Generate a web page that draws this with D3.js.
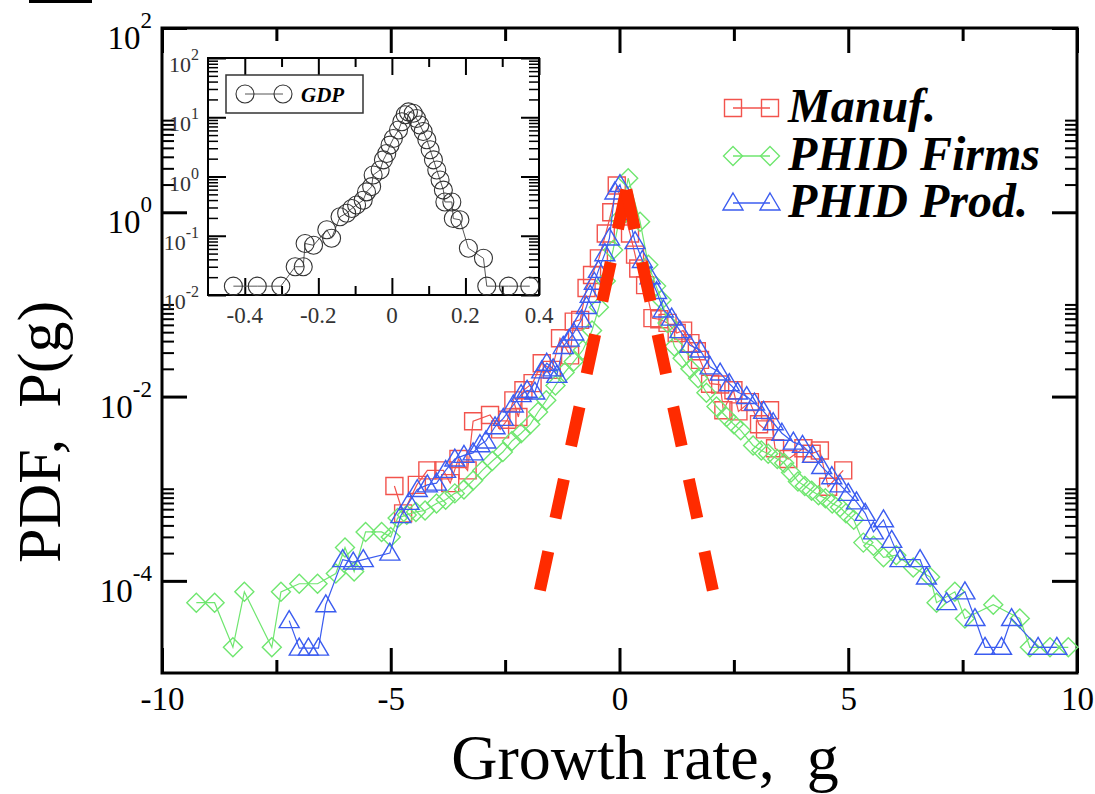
<!DOCTYPE html>
<html><head><meta charset="utf-8">
<script src="https://cdn.jsdelivr.net/npm/d3@7"></script>
<style>
html,body{margin:0;padding:0;background:#fff;}
svg{display:block;}
text{font-family:"Liberation Serif","Times New Roman",serif;}
</style></head><body>
<svg id="chart" width="1095" height="794"></svg>
<script>
// ---------- data ----------
// Manufacturing firms: growth rate g and density P(g)
const manufG = [-4.92,-4.73,-4.43,-4.2,-3.85,-3.7,-3.52,-3.32,-3.2,-2.83,-2.61,-2.45,-2.32,-2.21,-2.1,-1.9,-1.7,-1.48,-1.3,-1.08,-1.0,-0.86,-0.72,-0.6,-0.45,-0.3,-0.18,-0.06,0.23,0.34,0.41,0.56,0.72,0.87,1.05,1.25,1.39,1.55,1.69,1.76,1.98,2.2,2.27,2.49,2.6,2.85,3.05,3.18,3.29,3.4,3.69,4.02,4.2,4.38,4.56,4.89];
const manufP = [1.07e-3,5.4e-4,1.1e-3,1.58e-3,1.58e-3,1.15e-3,2.1e-3,1.58e-3,5.4e-3,6.3e-3,4.4e-3,5.6e-3,9.1e-3,6.0e-3,1.17e-2,1.4e-2,2.3e-2,1.95e-2,4.3e-2,2.8e-2,6.5e-2,6.8e-2,0.151,0.209,0.316,0.589,1.0,1.95,0.589,0.347,0.245,0.162,0.071,0.069,0.063,0.049,0.052,0.038,0.031,0.025,0.0138,0.0135,7.1e-3,0.0117,6.9e-3,8.7e-3,5.0e-3,4.4e-3,7.1e-3,2.75e-3,2.1e-3,2.75e-3,2.4e-3,2.6e-3,1.05e-3,1.58e-3];

// PHID firms
const firmsG = [-9.25,-8.85,-8.45,-8.2,-7.6,-7.4,-7.0,-6.6,-6.2,-6.0,-5.8,-5.55,-5.2,-5.0,-4.85,-4.65,-4.45,-4.25,-4.0,-3.8,-3.6,-3.4,-3.2,-3.0,-2.78,-2.55,-2.35,-2.15,-1.95,-1.78,-1.6,-1.4,-1.2,-1.0,-0.8,-0.6,-0.45,-0.3,-0.14,0.0,0.19,0.45,0.63,0.8,0.92,1.05,1.2,1.38,1.55,1.72,1.9,2.12,2.34,2.5,2.65,2.92,3.1,3.25,3.45,3.6,3.75,3.9,4.05,4.2,4.35,4.5,4.65,4.82,4.95,5.12,5.33,5.55,5.77,6.05,6.42,6.79,6.93,7.33,7.55,8.17,8.75,8.97,9.41,9.81];
const firmsP = [5.8e-5,5.8e-5,1.9e-5,7.6e-5,1.9e-5,7.6e-5,9.3e-5,9.3e-5,1.2e-4,2.3e-4,1.26e-4,3.4e-4,3.4e-4,3.0e-4,4.8e-4,5.2e-4,5.6e-4,5.8e-4,6.9e-4,7.6e-4,8.9e-4,9.8e-4,1.23e-3,1.58e-3,2.0e-3,2.5e-3,3.3e-3,4.0e-3,5.0e-3,6.8e-3,9.1e-3,1.32e-2,1.82e-2,2.4e-2,3.2e-2,5.2e-2,9.3e-2,0.18,0.39,0.85,2.34,0.79,0.27,0.158,0.112,0.063,0.035,0.026,0.020,0.0158,0.011,7.8e-3,6.0e-3,5.0e-3,4.3e-3,2.95e-3,2.6e-3,2.4e-3,2.1e-3,1.9e-3,1.5e-3,1.2e-3,1.07e-3,9.5e-4,8.5e-4,7.9e-4,6.9e-4,6.3e-4,5.4e-4,4.6e-4,2.6e-4,2.4e-4,1.8e-4,1.9e-4,1.4e-4,1.1e-4,5.8e-5,7.6e-5,3.9e-5,5.5e-5,3.9e-5,1.9e-5,1.9e-5,1.9e-5];

// PHID products
const prodG = [-7.22,-7.0,-6.8,-6.58,-6.42,-6.05,-5.82,-5.6,-5.02,-4.78,-4.6,-4.42,-4.2,-4.0,-3.8,-3.6,-3.4,-3.2,-3.05,-2.92,-2.72,-2.54,-2.32,-2.15,-2.02,-1.85,-1.7,-1.59,-1.45,-1.37,-1.23,-1.1,-1.0,-0.83,-0.72,-0.64,-0.55,-0.46,-0.32,-0.22,-0.1,0.01,0.18,0.34,0.5,0.67,0.81,0.96,1.14,1.32,1.54,1.76,1.98,2.2,2.4,2.58,2.78,2.95,3.15,3.36,3.55,3.8,4.0,4.22,4.42,4.64,4.82,5.0,5.18,5.37,5.55,5.77,5.95,6.13,6.57,6.71,7.15,7.55,7.77,7.99,8.35,8.57,9.15,9.56];
const prodP = [3.7e-5,1.86e-5,1.86e-5,1.86e-5,5.5e-5,1.7e-4,1.6e-4,1.7e-4,2.0e-4,5.1e-4,7.1e-4,9.8e-4,1.1e-3,1.15e-3,1.58e-3,2.1e-3,2.3e-3,2.45e-3,3.0e-3,3.3e-3,4.7e-3,5.8e-3,8.1e-3,1.05e-2,1.17e-2,1.12e-2,1.9e-2,2.3e-2,2.0e-2,1.7e-2,3.5e-2,4.2e-2,4.9e-2,6.8e-2,9.5e-2,0.126,0.174,0.234,0.355,0.525,1.66,2.0,1.0,0.48,0.30,0.20,0.138,0.087,0.071,0.052,0.036,0.032,0.021,0.018,0.0138,0.0112,0.010,8.5e-3,6.9e-3,5.2e-3,4.0e-3,3.2e-3,2.95e-3,2.3e-3,1.74e-3,1.35e-3,1.1e-3,8.9e-4,7.2e-4,5.4e-4,3.4e-4,4.6e-4,2.75e-4,1.7e-4,1.7e-4,1.1e-4,5.8e-5,7.6e-5,3.9e-5,1.9e-5,1.9e-5,3.9e-5,1.9e-5,1.9e-5];

// Dashed reference line: vertices (left foot, peak, right foot)
const refG = [-1.74, 0.15, 2.04];
const refP = [7.9e-5, 1.75, 7.9e-5];

// GDP growth rates (inset)
const gdpG = [-0.431,-0.366,-0.302,-0.263,-0.241,-0.236,-0.213,-0.177,-0.164,-0.141,-0.123,-0.109,-0.096,-0.078,-0.069,-0.055,-0.051,-0.032,-0.023,-0.014,-0.005,0.004,0.018,0.027,0.036,0.045,0.058,0.067,0.076,0.085,0.095,0.104,0.113,0.122,0.131,0.140,0.144,0.163,0.167,0.185,0.208,0.249,0.258,0.317,0.375];
const gdpP = [0.0141,0.0141,0.0141,0.030,0.030,0.074,0.069,0.126,0.091,0.209,0.240,0.288,0.331,0.398,0.550,0.676,1.06,1.29,1.91,2.45,3.39,4.37,6.1,8.4,11.0,12.3,11.7,9.5,7.4,5.75,4.17,2.82,1.91,1.29,0.871,0.589,0.372,0.372,0.195,0.186,0.0617,0.0417,0.0141,0.0141,0.0141];

// Axis ticks and labels
const xMajor = [-10, -5, 0, 5, 10];
const xMinor = [-7.5, -2.5, 2.5, 7.5];
const yLabelVals = [1e2, 1e0, 1e-2, 1e-4];
const yLabelExp = ["2", "0", "-2", "-4"];
const yMinorDecades = [1e0, 1e-2, 1e-4];

const ixMajor = [-0.4, -0.2, 0, 0.2, 0.4];
const ixLabels = ["-0.4", "-0.2", "0", "0.2", "0.4"];
const ixMinor = [-0.3, -0.1, 0.1, 0.3];
const iyMajor = [1e-2, 1e-1, 1e0, 1e1, 1e2];
const iyLabelExp = ["-2", "-1", "0", "1", "2"];

const seriesNames = ["Manuf.", "PHID Firms", "PHID Prod."];
const seriesColors = ["#f2534d", "#6fe66f", "#3b5cf0"];

// ---------- drawing ----------
const svg = d3.select("#chart");
svg.append("rect").attr("width", 1095).attr("height", 794).attr("fill", "#fff");

// fragment of the neighbouring panel's label in the corner
svg.append("rect").attr("x", 29).attr("y", 0).attr("width", 63).attr("height", 3).attr("fill", "#000");

const x = d3.scaleLinear().domain([-10, 10]).range([162, 1077]);
const y = d3.scaleLog().domain([1e-5, 1e2]).range([673, 28]);

const yMinor = [];
yMinorDecades.forEach(d => { for (let k = 2; k <= 10; k++) yMinor.push(k * d); });

function styleAxis(g, w) {
  g.select(".domain").remove();
  g.selectAll(".tick line").attr("stroke", "#000").attr("stroke-width", w);
}

// main frame axes (ticks point inward on all four sides)
const axG = svg.append("g");
axG.append("g").attr("transform", "translate(0,673)")
  .call(d3.axisBottom(x).tickValues(xMajor).tickSizeInner(-25).tickSizeOuter(0).tickPadding(13).tickFormat(d => d))
  .call(g => styleAxis(g, 3))
  .call(g => g.selectAll("text").attr("font-size", 33).attr("fill", "#000")
    .attr("font-family", "Liberation Serif").attr("y", 14));
axG.append("g").attr("transform", "translate(0,673)")
  .call(d3.axisBottom(x).tickValues(xMinor).tickSizeInner(-13).tickSizeOuter(0).tickFormat(""))
  .call(g => styleAxis(g, 3));
axG.append("g").attr("transform", "translate(0,28)")
  .call(d3.axisTop(x).tickValues(xMajor).tickSizeInner(-25).tickSizeOuter(0).tickFormat(""))
  .call(g => styleAxis(g, 3));
axG.append("g").attr("transform", "translate(0,28)")
  .call(d3.axisTop(x).tickValues(xMinor).tickSizeInner(-13).tickSizeOuter(0).tickFormat(""))
  .call(g => styleAxis(g, 3));
axG.append("g").attr("transform", "translate(162,0)")
  .call(d3.axisLeft(y).tickValues(yLabelVals).tickSizeInner(-25).tickSizeOuter(0).tickFormat(""))
  .call(g => styleAxis(g, 3));
axG.append("g").attr("transform", "translate(162,0)")
  .call(d3.axisLeft(y).tickValues(yMinor).tickSizeInner(-12).tickSizeOuter(0).tickFormat(""))
  .call(g => styleAxis(g, 2));
axG.append("g").attr("transform", "translate(1077,0)")
  .call(d3.axisRight(y).tickValues(yLabelVals).tickSizeInner(-25).tickSizeOuter(0).tickFormat(""))
  .call(g => styleAxis(g, 3));
axG.append("g").attr("transform", "translate(1077,0)")
  .call(d3.axisRight(y).tickValues(yMinor).tickSizeInner(-12).tickSizeOuter(0).tickFormat(""))
  .call(g => styleAxis(g, 2));

svg.append("rect").attr("x", 162).attr("y", 28).attr("width", 915).attr("height", 645)
  .attr("fill", "none").attr("stroke", "#000").attr("stroke-width", 3);

// y tick labels: 10 with superscript exponent
yLabelVals.forEach((v, i) => {
  const t = svg.append("text").attr("x", 152).attr("y", y(v) + 21).attr("text-anchor", "end").attr("fill", "#000");
  t.append("tspan").attr("font-size", 33).text("10");
  t.append("tspan").attr("font-size", 23).attr("dy", -21).text(yLabelExp[i]);
});

// axis titles
svg.append("text").attr("x", 645).attr("y", 779).attr("text-anchor", "middle")
  .attr("font-size", 64).style("white-space", "pre").text("Growth rate,  g");
svg.append("text").attr("transform", "translate(60,432) rotate(-90)").attr("text-anchor", "middle")
  .attr("font-size", 62).style("white-space", "pre").text("PDF,  P(g)");

// marker shapes
function markerPath(kind, cx, cy) {
  if (kind === 0) { const s = 8.5; return `M${cx - s},${cy - s}H${cx + s}V${cy + s}H${cx - s}Z`; }
  if (kind === 1) { const s = 9.5; return `M${cx},${cy - s}L${cx + s},${cy}L${cx},${cy + s}L${cx - s},${cy}Z`; }
  return `M${cx},${cy - 10}L${cx + 10},${cy + 7}L${cx - 10},${cy + 7}Z`;
}

const seriesG = [manufG, firmsG, prodG];
const seriesP = [manufP, firmsP, prodP];
const line = d3.line().x(d => x(d[0])).y(d => y(d[1]));

seriesG.forEach((gs, i) => {
  const pts = gs.map((g, j) => [g, seriesP[i][j]]);
  const grp = svg.append("g");
  grp.append("path").attr("d", line(pts)).attr("fill", "none")
    .attr("stroke", seriesColors[i]).attr("stroke-width", 1.2);
  grp.selectAll("path.m").data(pts).join("path").attr("class", "m")
    .attr("d", d => markerPath(i, x(d[0]), y(d[1])))
    .attr("fill", "none").attr("stroke", seriesColors[i]).attr("stroke-width", 1.4);
});

// dashed reference curve, drawn outward from its peak
const refPeak = [refG[1], refP[1]];
[[refPeak, [refG[0], refP[0]]], [refPeak, [refG[2], refP[2]]]].forEach(seg => {
  svg.append("path").attr("d", line(seg)).attr("fill", "none")
    .attr("stroke", "#ff2b00").attr("stroke-width", 12)
    .attr("stroke-dasharray", "40,34").attr("stroke-linecap", "butt");
});

// legend
const legY = [108, 156, 203];
seriesNames.forEach((name, i) => {
  const ly = legY[i];
  svg.append("line").attr("x1", 733).attr("x2", 770).attr("y1", ly).attr("y2", ly)
    .attr("stroke", seriesColors[i]).attr("stroke-width", 1.4);
  [733, 770].forEach(cx => svg.append("path").attr("d", markerPath(i, cx, ly))
    .attr("fill", "none").attr("stroke", seriesColors[i]).attr("stroke-width", 1.4));
  svg.append("text").attr("x", 788).attr("y", ly + 14).attr("font-size", 48)
    .attr("font-weight", "bold").attr("font-style", "italic").attr("fill", "#000").text(name);
});

// ---------- inset: GDP ----------
const xi = d3.scaleLinear().domain([-0.5, 0.4]).range([208, 539]);
const yi = d3.scaleLog().domain([1e-2, 1e2]).range([295, 58]);
const iyMinor = [];
iyMajor.slice(0, -1).forEach(d => { for (let k = 2; k <= 9; k++) iyMinor.push(k * d); });

const inG = svg.append("g");
inG.append("g").attr("transform", "translate(0,295)")
  .call(d3.axisBottom(xi).tickValues(ixMajor).tickSizeInner(-17).tickSizeOuter(0).tickFormat(""))
  .call(g => styleAxis(g, 2));
inG.append("g").attr("transform", "translate(0,295)")
  .call(d3.axisBottom(xi).tickValues(ixMinor).tickSizeInner(-9).tickSizeOuter(0).tickFormat(""))
  .call(g => styleAxis(g, 2));
inG.append("g").attr("transform", "translate(0,58)")
  .call(d3.axisTop(xi).tickValues(ixMajor).tickSizeInner(-17).tickSizeOuter(0).tickFormat(""))
  .call(g => styleAxis(g, 2));
inG.append("g").attr("transform", "translate(0,58)")
  .call(d3.axisTop(xi).tickValues(ixMinor).tickSizeInner(-9).tickSizeOuter(0).tickFormat(""))
  .call(g => styleAxis(g, 2));
inG.append("g").attr("transform", "translate(208,0)")
  .call(d3.axisLeft(yi).tickValues(iyMajor).tickSizeInner(-18).tickSizeOuter(0).tickFormat(""))
  .call(g => styleAxis(g, 2));
inG.append("g").attr("transform", "translate(208,0)")
  .call(d3.axisLeft(yi).tickValues(iyMinor).tickSizeInner(-10).tickSizeOuter(0).tickFormat(""))
  .call(g => styleAxis(g, 1.5));
inG.append("g").attr("transform", "translate(539,0)")
  .call(d3.axisRight(yi).tickValues(iyMajor).tickSizeInner(-18).tickSizeOuter(0).tickFormat(""))
  .call(g => styleAxis(g, 2));
inG.append("g").attr("transform", "translate(539,0)")
  .call(d3.axisRight(yi).tickValues(iyMinor).tickSizeInner(-10).tickSizeOuter(0).tickFormat(""))
  .call(g => styleAxis(g, 1.5));
inG.append("rect").attr("x", 208).attr("y", 58).attr("width", 331).attr("height", 237)
  .attr("fill", "none").attr("stroke", "#000").attr("stroke-width", 2);

ixMajor.forEach((v, i) => {
  inG.append("text").attr("x", xi(v)).attr("y", 323).attr("text-anchor", "middle")
    .attr("font-size", 23).attr("fill", "#333").text(ixLabels[i]);
});
iyMajor.forEach((v, i) => {
  const t = inG.append("text").attr("x", 199).attr("y", yi(v) + 14).attr("text-anchor", "end").attr("fill", "#333");
  t.append("tspan").attr("font-size", 22).text("10");
  t.append("tspan").attr("font-size", 16).attr("dy", -12).text(iyLabelExp[i]);
});

const gdpPts = gdpG.map((g, j) => [g, gdpP[j]]);
const iline = d3.line().x(d => xi(d[0])).y(d => yi(d[1]));
inG.append("path").attr("d", iline(gdpPts)).attr("fill", "none").attr("stroke", "#555").attr("stroke-width", 1);
inG.selectAll("circle.gdp").data(gdpPts).join("circle").attr("class", "gdp")
  .attr("cx", d => xi(d[0])).attr("cy", d => yi(d[1])).attr("r", 9)
  .attr("fill", "none").attr("stroke", "#333").attr("stroke-width", 1.1);

// inset legend
inG.append("rect").attr("x", 226).attr("y", 75).attr("width", 137).attr("height", 38)
  .attr("fill", "none").attr("stroke", "#333").attr("stroke-width", 1.5);
inG.append("line").attr("x1", 245).attr("x2", 283).attr("y1", 94).attr("y2", 94).attr("stroke", "#555").attr("stroke-width", 1);
[245, 283].forEach(cx => inG.append("circle").attr("cx", cx).attr("cy", 94).attr("r", 9)
  .attr("fill", "none").attr("stroke", "#333").attr("stroke-width", 1.1));
inG.append("text").attr("x", 301).attr("y", 102).attr("font-size", 21).attr("font-weight", "bold")
  .attr("font-style", "italic").attr("fill", "#000").text("GDP");
</script>
</body></html>
